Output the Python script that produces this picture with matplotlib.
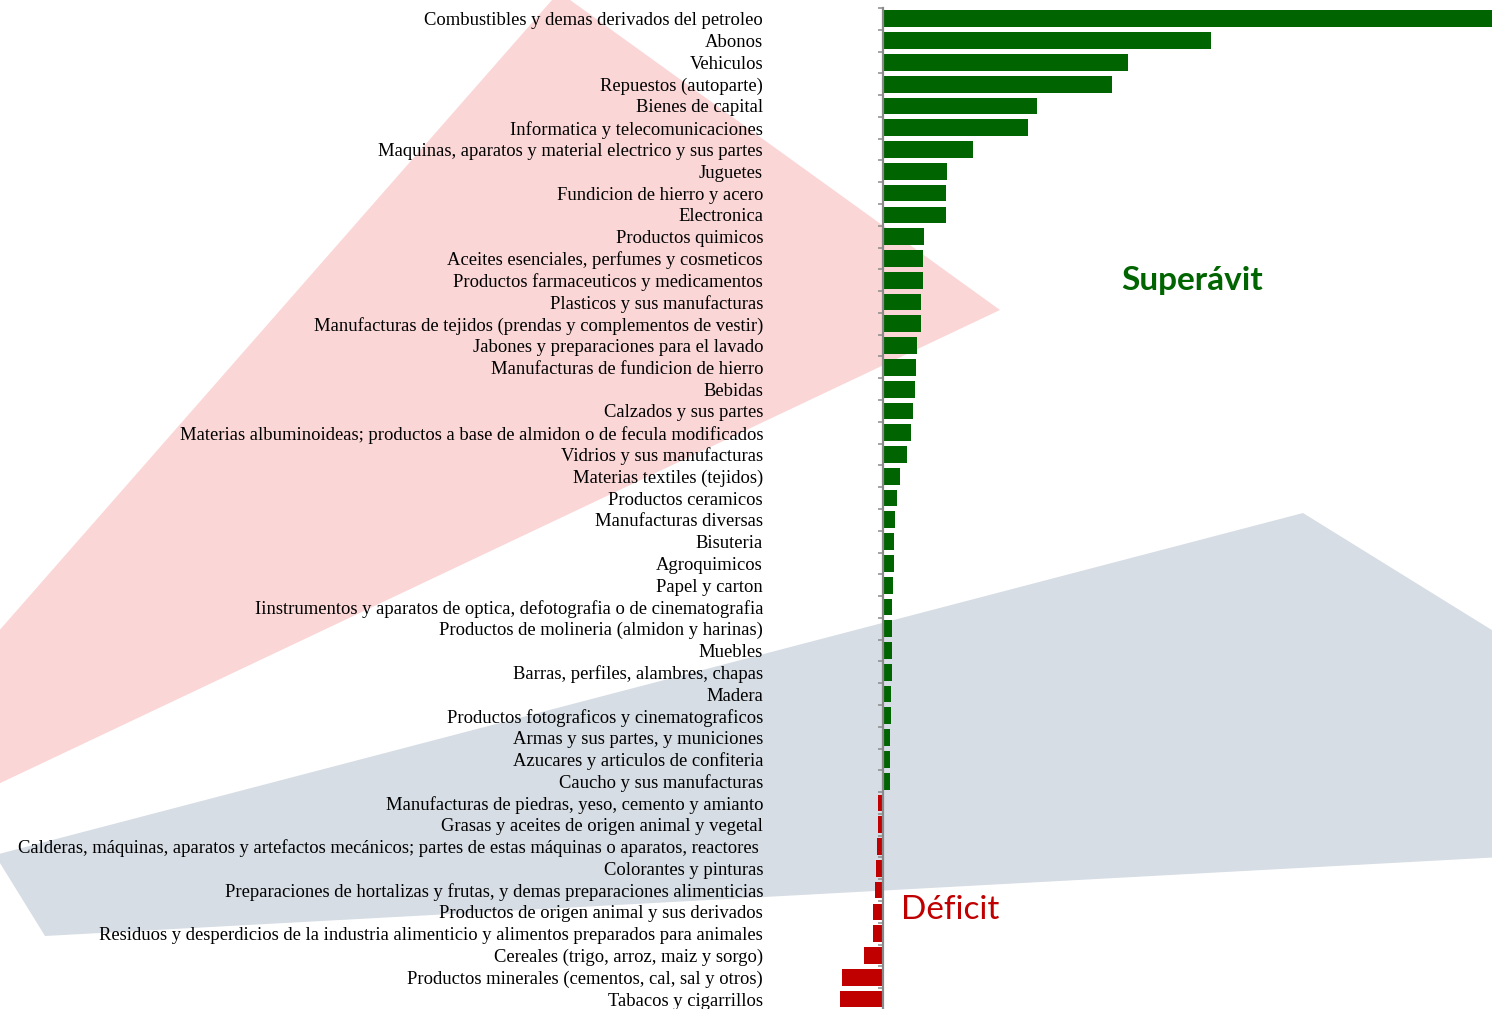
import matplotlib
matplotlib.use("Agg")
import matplotlib.pyplot as plt
from matplotlib.patches import Polygon

# saldo comercial por rubro (escala relativa)
rubros = [
    "Combustibles y demas derivados del petroleo",
    "Abonos",
    "Vehiculos",
    "Repuestos (autoparte)",
    "Bienes de capital",
    "Informatica y telecomunicaciones",
    "Maquinas, aparatos y material electrico y sus partes",
    "Juguetes",
    "Fundicion de hierro y acero",
    "Electronica",
    "Productos quimicos",
    "Aceites esenciales, perfumes y cosmeticos",
    "Productos farmaceuticos y medicamentos",
    "Plasticos y sus manufacturas",
    "Manufacturas de tejidos (prendas y complementos de vestir)",
    "Jabones y preparaciones para el lavado",
    "Manufacturas de fundicion de hierro",
    "Bebidas",
    "Calzados y sus partes",
    "Materias albuminoideas; productos a base de almidon o de fecula modificados",
    "Vidrios y sus manufacturas",
    "Materias textiles (tejidos)",
    "Productos ceramicos",
    "Manufacturas diversas",
    "Bisuteria",
    "Agroquimicos",
    "Papel y carton",
    "Iinstrumentos y aparatos de optica, defotografia o de cinematografia",
    "Productos de molineria (almidon y harinas)",
    "Muebles",
    "Barras, perfiles, alambres, chapas",
    "Madera",
    "Productos fotograficos y cinematograficos",
    "Armas y sus partes, y municiones",
    "Azucares y articulos de confiteria",
    "Caucho y sus manufacturas",
    "Manufacturas de piedras, yeso, cemento y amianto",
    "Grasas y aceites de origen animal y vegetal",
    "Calderas, máquinas, aparatos y artefactos mecánicos; partes de estas máquinas o aparatos, reactores ",
    "Colorantes y pinturas",
    "Preparaciones de hortalizas y frutas, y demas preparaciones alimenticias",
    "Productos de origen animal y sus derivados",
    "Residuos y desperdicios de la industria alimenticio y alimentos preparados para animales",
    "Cereales (trigo, arroz, maiz y sorgo)",
    "Productos minerales (cementos, cal, sal y otros)",
    "Tabacos y cigarrillos",
]
saldo = [612, 328, 245, 229, 154, 145, 90, 64, 63, 63,
         41, 40, 40, 38, 38, 34, 33, 32, 30, 28,
         24, 17, 14, 12, 11, 11, 10, 9, 9, 9,
         9, 8, 8, 7, 7, 7, -5, -5, -6, -7,
         -8, -10, -10, -19, -41, -43]

W, H = 1492, 1009
fig = plt.figure(figsize=(W / 100, H / 100), dpi=100)

def px(x, y):
    return (x / W, 1 - y / H)

# marca de agua de fondo
rojo = Polygon([px(559, -8), px(1000, 310), px(-230, 892)], closed=True,
               facecolor="#fbd6d6", edgecolor="none", transform=fig.transFigure, zorder=0)
azul = Polygon([px(-5, 855), px(1303, 513), px(1650, 728), px(1650, 849), px(45, 936)],
               closed=True, facecolor="#d7dde5", edgecolor="none",
               transform=fig.transFigure, zorder=0)
fig.add_artist(rojo)
fig.add_artist(azul)

ax = fig.add_axes([838 / W, -0.0009, 654 / W, 0.993])
ax.set_facecolor("none")

colores = ["#006400" if v > 0 else "#c00000" for v in saldo]
pos = list(range(len(rubros)))
ax.barh(pos, saldo, height=0.77, color=colores, zorder=2)

ax.set_xlim(-45, 609)
ax.set_ylim(len(rubros) - 0.5, -0.5)

for s in ["top", "right", "bottom"]:
    ax.spines[s].set_visible(False)
ax.spines["left"].set_position(("data", 0))
ax.spines["left"].set_color("#8a8a8a")
ax.spines["left"].set_linewidth(1.6)
ax.spines["left"].set_zorder(3)

ax.set_xticks([])
ax.set_yticks(pos)
ax.set_yticklabels(rubros, fontfamily="Liberation Serif", fontsize=13.4)
ax.set_yticks([p - 0.5 for p in pos] + [len(rubros) - 0.5], minor=True)
ax.tick_params(axis="y", which="major", length=0, pad=86.4)
ax.tick_params(axis="y", which="minor", length=3.6, width=1.1, color="#8a8a8a", direction="out")

ax.text(309, 12.0, "Superávit", color="#006400", fontsize=24, fontweight="bold",
        fontfamily="Lato", ha="center", va="center")
ax.text(67, 40.9, "Déficit", color="#c00000", fontsize=24,
        fontfamily="Lato", ha="center", va="center")

fig.savefig("out.png", dpi=100)
